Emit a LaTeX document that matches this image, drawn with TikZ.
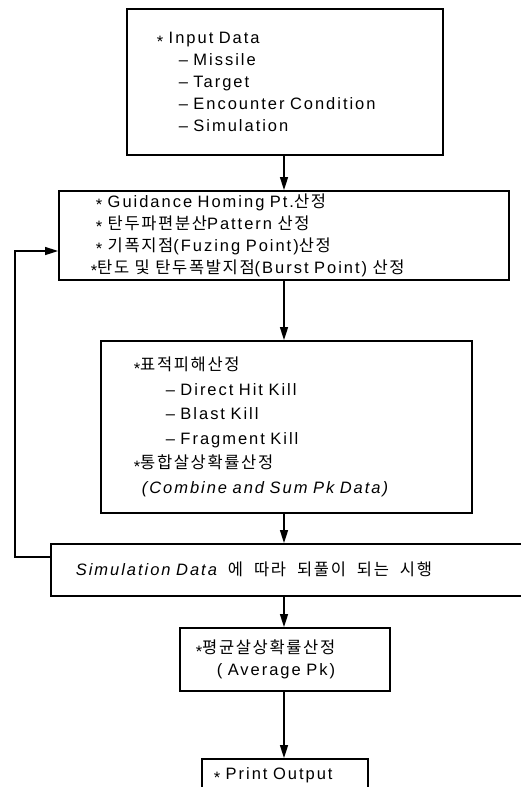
\documentclass[tikz,border=0pt]{standalone}
\usepackage{fontspec}
\setmainfont{Liberation Sans}[LetterSpace=12]
\newfontfamily\krfont{Noto Sans CJK KR}[LetterSpace=10,Scale=1.0]
\usetikzlibrary{arrows.meta}
\newcommand\ko[1]{{\krfont #1}}
\newcommand\mystar{\raisebox{-0.22em}{*}}
\newcommand\wgap{\hspace*{11pt}}
\begin{document}
\begin{tikzpicture}[x=1pt,y=-1pt,
  box/.style={draw, line width=1.6pt, anchor=north west, align=left, inner ysep=0pt,
    font=\fontsize{16.5}{22}\selectfont},
  arr/.style={line width=1.6pt, -{Triangle[length=13pt,width=8pt]}}]
\useasboundingbox (0,0) rectangle (520,787);
\node[box, text width=256pt, inner xsep=30pt, minimum height=146pt] (input) at (126,8)
  {\mystar\ Input Data\\
   \hspace*{22pt}– Missile\\
   \hspace*{22pt}– Target\\
   \hspace*{22pt}– Encounter Condition\\
   \hspace*{22pt}– Simulation};
\node[box, text width=376pt, inner xsep=37pt, minimum height=89pt] (calc) at (58,190)
  {\mystar\ Guidance Homing Pt.\ko{산정}\\
   \mystar\ \ko{탄두파편분산}Pattern \ko{산정}\\
   \mystar\ \ko{기폭지점}(Fuzing Point)\ko{산정}\\
   \hspace*{-5pt}\mystar\ko{탄도 및 탄두폭발지점}(Burst Point) \ko{산정}};
\node[box, text width=305pt, inner xsep=33pt, minimum height=172pt,
  font=\fontsize{16.5}{24.6}\selectfont] (kill) at (100,340)
  {\mystar\ko{표적피해산정}\\
   \hspace*{32pt}– Direct Hit Kill\\
   \hspace*{32pt}– Blast Kill\\
   \hspace*{32pt}– Fragment Kill\\
   \mystar\ko{통합살상확률산정}\\
   \hspace*{8pt}{\itshape (Combine and Sum Pk Data)}};
\node[box, text width=470pt, inner xsep=25pt, minimum height=52pt] (loop) at (50,543)
  {{\itshape Simulation Data}\wgap\ko{에\wgap 따라\wgap 되풀이\wgap 되는\wgap 시행}};
\node[box, text width=178pt, inner xsep=16pt, minimum height=63pt] (avg) at (179,627)
  {\mystar\ko{평균살상확률산정}\\
   \hspace*{21pt}( Average Pk)};
\node[box, text width=142pt, inner xsep=12pt, minimum height=34pt] (out) at (201,758)
  {\mystar\ Print Output};
\coordinate (ax) at (284,0);
\draw[arr] (input.south -| ax) -- (calc.north -| ax);
\draw[arr] (calc.south -| ax) -- (kill.north -| ax);
\draw[arr] (kill.south -| ax) -- (loop.north -| ax);
\draw[arr] (loop.south -| ax) -- (avg.north -| ax);
\draw[arr] (avg.south -| ax) -- (out.north -| ax);
\coordinate (fbB) at (15,557);
\coordinate (fbT) at (15,251);
\draw[arr] (loop.west |- fbB) -- (fbB) -- (fbT) -- (calc.west |- fbT);
\end{tikzpicture}
\end{document}
